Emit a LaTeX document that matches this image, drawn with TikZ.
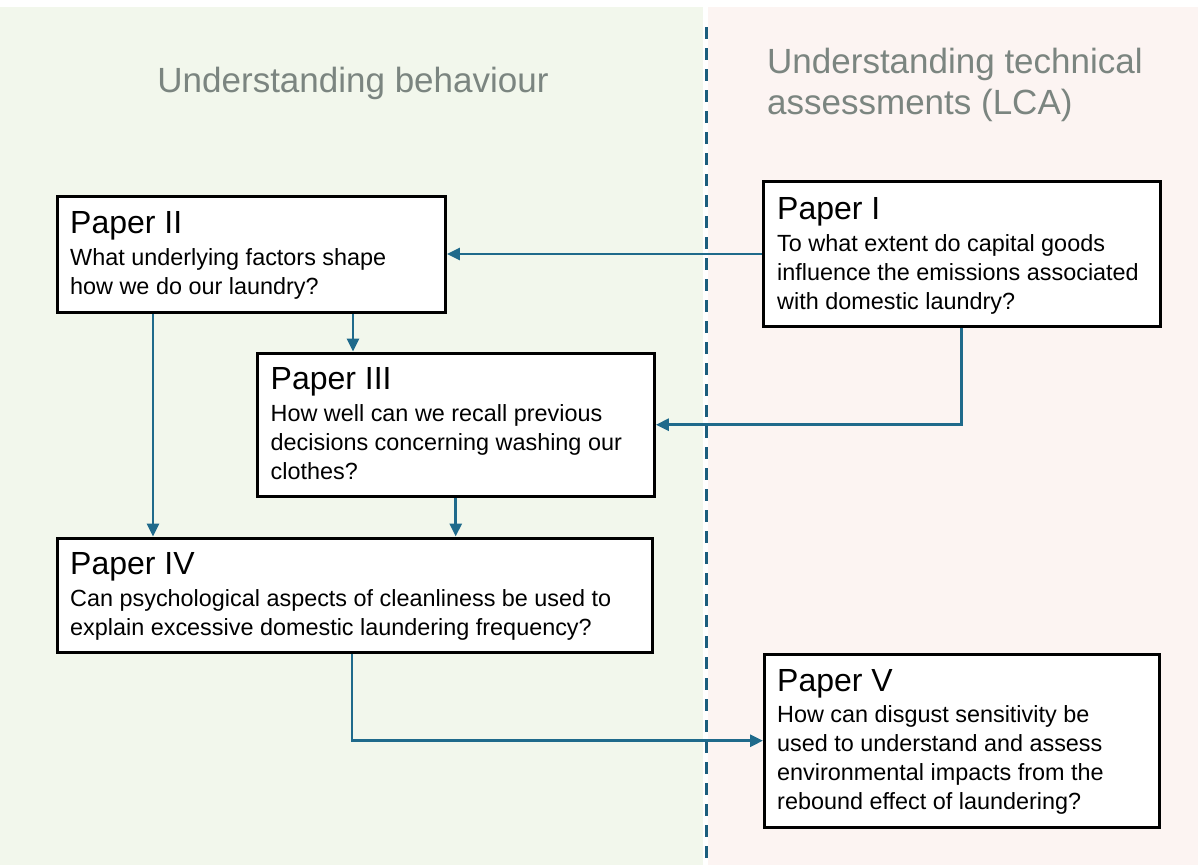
\documentclass[tikz,border=0pt]{standalone}
\usepackage{fontspec}
\setmainfont{Liberation Sans}
\usetikzlibrary{arrows.meta}

\definecolor{leftbg}{HTML}{F2F7EC}
\definecolor{rightbg}{HTML}{FCF4F2}
\definecolor{headgray}{HTML}{7B8580}
\definecolor{flow}{HTML}{1F6A8B}
\definecolor{divider}{HTML}{1B5E7D}

\begin{document}
\begin{tikzpicture}[x=1pt,y=-1pt,
  paperbox/.style={draw=black, line width=3.4pt, fill=white, rectangle,
    inner sep=0pt, anchor=north west},
  ptitle/.style={anchor=base west, inner sep=0pt,
    font=\fontsize{32}{38}\selectfont},
  % anchored at the baseline of the last line
  pbody/.style={anchor=base west, inner sep=0pt, align=left,
    font=\fontsize{23.4}{29}\selectfont},
  header/.style={text=headgray, inner sep=0pt,
    font=\fontsize{35}{41}\selectfont},
  flowarrow/.style={draw=flow, line width=2.9pt,
    -{Triangle[length=13pt,width=12pt]}},
]
\useasboundingbox (0,0) rectangle (1198,865);

% two panels and the dashed divider
\fill[white] (0,0) rectangle (1198,865);
\fill[leftbg] (0,7) rectangle (703,865);
\fill[rightbg] (708,7) rectangle (1198,865);
\draw[divider, line width=3pt, dash pattern=on 12pt off 9pt] (706,27) -- (706,865);

% panel headings
\node[header, anchor=base] (hL) at (353,92) {Understanding behaviour};
\node[header, anchor=base west, align=left] (hR) at (767,114)
  {Understanding technical\\assessments (LCA)};

% paper boxes
\node[paperbox, minimum width=388pt, minimum height=116pt] (pII) at (55.5,194.5) {};
\node[paperbox, minimum width=397pt, minimum height=145pt] (pI) at (761.5,179.8) {};
\node[paperbox, minimum width=397pt, minimum height=143pt] (pIII) at (255.5,351.5) {};
\node[paperbox, minimum width=595pt, minimum height=114pt] (pIV) at (56,536.5) {};
\node[paperbox, minimum width=395pt, minimum height=173pt] (pV) at (763,652.5) {};

% box contents
\node[ptitle] (tII) at (70,233.3) {Paper II};
\node[pbody] (bII) at (70,294.3) {What underlying factors shape\\how we do our laundry?};

\node[ptitle] (tI) at (777,219.5) {Paper I};
\node[pbody] (bI) at (777,309.7) {To what extent do capital goods\\influence the emissions associated\\with domestic laundry?};

\node[ptitle] (tIII) at (270.5,389.5) {Paper III};
\node[pbody] (bIII) at (270.5,479.7) {How well can we recall previous\\decisions concerning washing our\\clothes?};

\node[ptitle] (tIV) at (70,574) {Paper IV};
\node[pbody] (bIV) at (70,635) {Can psychological aspects of cleanliness be used to\\explain excessive domestic laundering frequency?};

\node[ptitle] (tV) at (777,691.7) {Paper V};
\node[pbody] (bV) at (777,809.7) {How can disgust sensitivity be\\used to understand and assess\\environmental impacts from the\\rebound effect of laundering?};

% connectors
\draw[flowarrow] (pI.west) -- (pI.west -| pII.east);
\draw[flowarrow] (pI.south) |- (pIII.east);
\draw[flowarrow] (353,0 |- pII.south) -- (353,0 |- pIII.north);
\draw[flowarrow] (153,0 |- pII.south) -- (153,0 |- pIV.north);
\draw[flowarrow] (pIII.south) -- (pIII.south |- pIV.north);
\draw[flowarrow] (352,0 |- pIV.south) |- (pV.west);
\end{tikzpicture}
\end{document}
